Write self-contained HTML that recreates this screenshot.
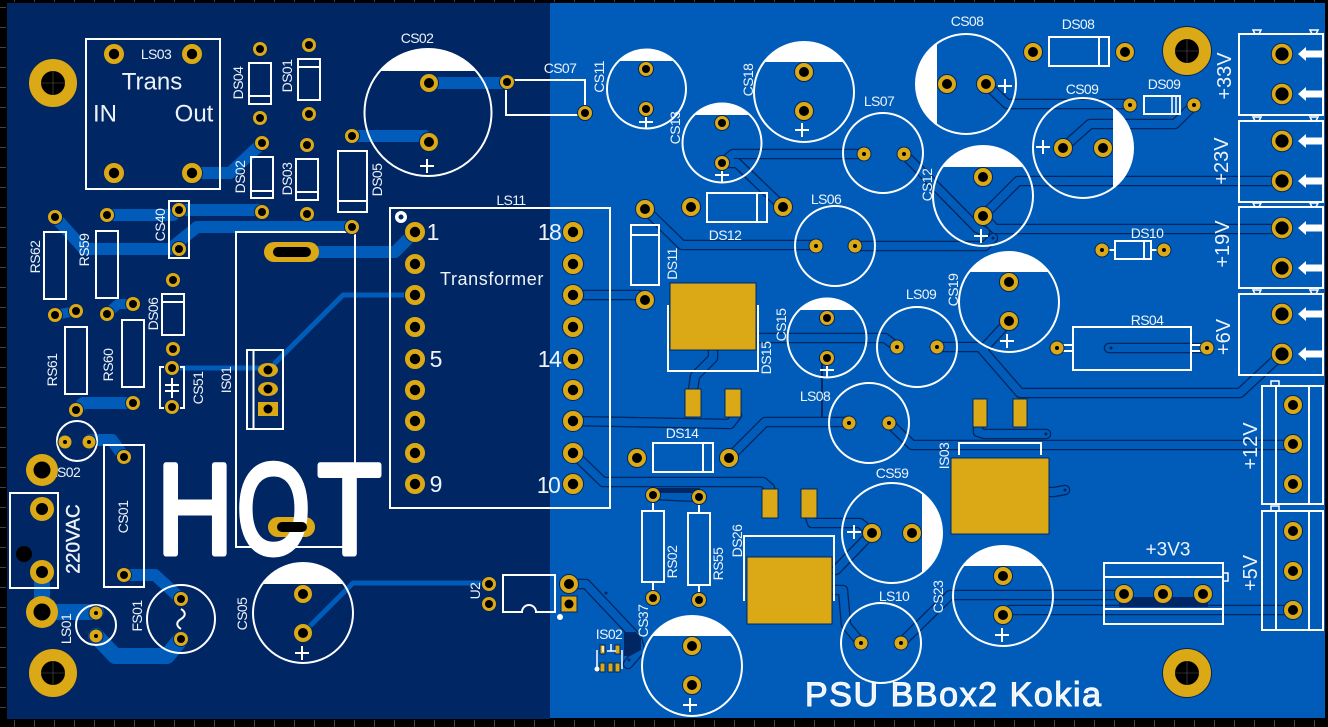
<!DOCTYPE html>
<html><head><meta charset="utf-8"><style>
html,body{margin:0;padding:0;background:#000;width:1328px;height:727px;overflow:hidden}
svg{display:block}
text{font-family:"Liberation Sans",sans-serif;fill:#eef3f9;text-anchor:middle;dominant-baseline:central}
.l{font-size:14px;letter-spacing:-.6px}
.s{fill:none;stroke:#fff;stroke-width:2}
.w{fill:#fff}
.g{fill:#dba915;stroke:#00265e;stroke-width:1}
.t{fill:none;stroke:#005cb8;stroke-linejoin:round;stroke-linecap:round}
</style></head><body>
<svg width="1328" height="727" viewBox="0 0 1328 727" xmlns="http://www.w3.org/2000/svg">
<defs>
<g id="m"><circle r="24.5" fill="#dba915" stroke="#00265e"/><circle r="12"/><path d="M-12 0H12M0-12V12" stroke="#555" stroke-width=".6"/></g>
<g id="a"><circle r="10.5" fill="#dba915" stroke="#00265e"/><circle r="5.2"/></g>
<g id="A"><circle r="10.7" fill="#dba915" stroke="#00265e"/><circle r="6.6"/></g>
<g id="b"><circle r="9.5" fill="#dba915" stroke="#00265e"/><circle r="5"/></g>
<g id="c"><circle r="7.5" fill="#dba915" stroke="#00265e"/><circle r="4"/></g>
<g id="d"><circle r="7" fill="#dba915" stroke="#00265e"/><circle r="2"/></g>
<g id="e"><circle r="16" fill="#dba915"/><circle r="8.5"/></g>
<g id="f"><circle r="12" fill="#dba915"/><circle r="6"/></g>
<g id="r"><path d="M0 0L8-7V-3.5H24V3.5H8V7Z" fill="#fff"/></g>
<path id="n" d="M-4 0H4L2 4H-2Z" fill="none" stroke="#fff" stroke-width="1.5"/>
<g id="tr" fill="none" stroke-linejoin="round" stroke-linecap="round">
<path d="M722 163L733 154H864"/>
<path d="M722 163H737L783 207"/>
<path d="M645 209L682 245H816"/>
<path d="M573 295H640L645 300"/>
<path d="M713 350V358L695 376L693 390"/>
<path d="M756 338H885L897 347"/>
<path d="M937 347H980L1020 393H1240L1282 354"/>
<path d="M1009 321L985 347"/>
<path d="M889 423L912 445H1293"/>
<path d="M729 458L765 422H849"/>
<path d="M573 421L730 424L737 415"/>
<path d="M573 453L603 482H763L770 488V492"/>
<path d="M806 505L812 523H860L872 533"/>
<path d="M872 533L836 570"/>
<path d="M835 590H843L846 625L861 643"/>
<path d="M901 643L950 595H1124"/>
<path d="M1003 615L1010 610H1293"/>
<path d="M983 216L1018 181H1282"/>
<path d="M983 216L995 229H1282"/>
<path d="M904 154L977 228L985 232"/>
<path d="M855 246H985L993 238"/>
<path d="M986 84L1007 104H1130"/>
<path d="M1063 148L1090 124H1175L1194 105"/>
<path d="M1109 348H1207"/>
<path d="M978 427V432L984 434H1046"/>
<path d="M1049 492H1054L1065 490"/>
<path d="M569 584H586L637 638L640 650L628 664"/>
<path d="M653 495L699 497"/>
</g>
</defs>

<rect width="1328" height="727" fill="#000"/>
<path d="M0 0V727" stroke="#444" stroke-width="12" stroke-dasharray="1 19" stroke-dashoffset="-7"/>
<path d="M14 727H1328" stroke="#444" stroke-width="14" stroke-dasharray="1 19"/>
<path d="M14 0H1328" stroke="#444" stroke-width="4" stroke-dasharray="1 19"/>
<rect x="7" y="3" width="543" height="716" fill="#002663"/>
<rect x="550" y="3" width="775" height="715" fill="#005cb8"/>

<!-- left copper -->
<g class="t" stroke-width="12">
<path d="M192 173H230L262 143"/>
<path d="M107 215H173L179 210H262"/>
<path d="M55 217L84 249H170L197 227H352"/>
<path d="M292 252H395L415 232"/>
<path d="M76 311L55 315" stroke-width="10"/>
<path d="M107 314L118 304H133" stroke-width="10"/>
<path d="M76 410L83 403H133"/>
<path d="M89 440H112L124 457"/>
<path d="M124 575H155L181 599"/>
<path d="M42 572V612H96" stroke-width="16"/>
<path d="M96 636L115 656H167L181 639" stroke-width="16"/>
<path d="M429 83H507"/>
<path d="M352 136H425L429 142"/>
<path d="M275 363L343 295H415" stroke-width="5"/>
<path d="M172 368H268" stroke-width="5"/>
<path d="M303 633L353 583H489" stroke-width="5"/>
</g>

<!-- right copper -->
<use href="#tr" stroke="#00265e" stroke-width="10.6"/>
<use href="#tr" stroke="#005cb8" stroke-width="8"/>
<path d="M822 358V417" stroke="#00265e" stroke-width="2" fill="none"/>
<path d="M624 632H636L641 638V650L630 656H624Z" fill="#002663"/>
<rect x="650" y="488" width="50" height="5" fill="#002663"/>
<rect x="1119" y="597" width="89" height="10" fill="#002663"/>

<!-- gold SMD pads -->
<rect class="g" x="670" y="283" width="86" height="67"/>
<rect class="g" x="685" y="389" width="16" height="28"/>
<rect class="g" x="725" y="389" width="16" height="28"/>
<rect class="g" x="762" y="489" width="16" height="29"/>
<rect class="g" x="801" y="489" width="16" height="29"/>
<rect class="g" x="951" y="458" width="98" height="76"/>
<rect class="g" x="973" y="399" width="14" height="28"/>
<rect class="g" x="1013" y="399" width="14" height="28"/>
<rect class="g" x="747" y="557" width="85" height="67"/>
<rect class="g" x="600" y="645" width="5" height="9"/>
<rect class="g" x="615" y="645" width="5" height="9"/>
<rect class="g" x="600" y="663" width="5" height="9"/>
<rect class="g" x="608" y="663" width="5" height="9"/>
<rect class="g" x="615" y="663" width="5" height="9"/>

<!-- slots -->
<rect x="264" y="242" width="55" height="20" rx="10" fill="#dba915"/>
<rect x="273" y="247" width="38" height="10" rx="5"/>
<rect x="268" y="517" width="47" height="20" rx="10" fill="#dba915"/>

<!-- silkscreen -->
<g class="s">
<rect x="86" y="39" width="134" height="150"/>
<rect x="249" y="63" width="22" height="41"/><path d="M249 96H271"/>
<rect x="298" y="59" width="22" height="41"/><path d="M298 67H320"/>
<rect x="251" y="157" width="22" height="41"/><path d="M251 191H273"/>
<rect x="296" y="159" width="22" height="41"/><path d="M296 192H318"/>
<rect x="338" y="151" width="29" height="61"/><path d="M338 201H367"/>
<rect x="169" y="201" width="20" height="57"/>
<rect x="44" y="232" width="22" height="67"/>
<rect x="96" y="231" width="22" height="67"/>
<rect x="65" y="327" width="22" height="67"/>
<rect x="122" y="320" width="22" height="67"/>
<rect x="162" y="294" width="22" height="41"/><path d="M162 302H184"/>
<path d="M164 367H160V408H164M180 367H184V408H180"/>
<path d="M172 378V398M165 385H179M165 391H179"/>
<rect x="236" y="232" width="119" height="315"/>
<rect x="247" y="350" width="36" height="79"/><path d="M253.500 350V429"/>
<circle cx="428" cy="112.500" r="63.500"/>
<path d="M507 80H585V105M506 85V115H580"/>
<circle cx="646.500" cy="89" r="39.500"/>
<circle cx="722" cy="143" r="39.500"/>
<circle cx="804" cy="92" r="50"/>
<rect x="707" y="193" width="60" height="29"/><path d="M757 193V222"/>
<rect x="631" y="225" width="28" height="60"/><path d="M631 235H659"/>
<path d="M668 305V371H758V305"/>
<rect x="653" y="443" width="60" height="29"/><path d="M703 443V472"/>
<rect x="390" y="208" width="220" height="300"/>
<circle cx="827" cy="338" r="39.500"/>
<circle cx="835" cy="246" r="40"/>
<circle cx="883" cy="153" r="40"/>
<circle cx="966" cy="84" r="50"/>
<rect x="1049" y="37" width="60" height="29"/><path d="M1099 37V66"/>
<circle cx="1083" cy="148" r="50"/>
<rect x="1144" y="96" width="36" height="18"/><path d="M1172 96V114M1176 96V114" stroke-width="1.500"/>
<circle cx="983" cy="196" r="50"/>
<rect x="1115" y="241" width="36" height="18"/><path d="M1144 241V259M1102 250H1115M1151 250H1164"/>
<circle cx="1009" cy="302" r="50"/>
<circle cx="917" cy="347" r="40"/>
<rect x="1073" y="327" width="118" height="43"/><path d="M1057 345H1073M1057 351H1073M1191 345H1207M1191 351H1207"/>
<rect x="1239" y="34" width="84" height="81"/>
<rect x="1239" y="121" width="84" height="81"/>
<rect x="1239" y="207" width="84" height="81"/>
<rect x="1239" y="294" width="84" height="81"/>
<rect x="1262" y="386" width="61" height="118"/><path d="M1276 386V504M1309 386V504"/>
<rect x="1271" y="381" width="8" height="5" stroke-width="1.500"/>
<rect x="1262" y="511" width="61" height="119"/><path d="M1276 511V630M1309 511V630"/>
<rect x="1271" y="506" width="8" height="5" stroke-width="1.500"/>
<path d="M959 455V443H1041V455"/>
<circle cx="892" cy="533" r="50"/>
<circle cx="869" cy="423" r="40"/>
<circle cx="1003" cy="596" r="50"/>
<circle cx="881" cy="643" r="40"/>
<rect x="1104" y="563" width="119" height="61"/><path d="M1104 577H1223M1104 609H1223"/>
<rect x="1223" y="573" width="5" height="8" stroke-width="1.500"/>
<path d="M744 601V536H834V601"/>
<rect x="642" y="511" width="22" height="71"/><path d="M653 503V511M653 582V590"/>
<rect x="688" y="513" width="22" height="72"/><path d="M699 505V513M699 585V593"/>
<path d="M503 612V575H555V612H536A7 7 0 0 0 522 612Z"/>
<circle cx="692" cy="666" r="50"/>
<path d="M597 650V669M603 652V646M607 651H616M611 644V651" stroke-width="1.500"/>
<path d="M622 650V669" stroke-width="1.500"/>
<circle cx="303" cy="613" r="50"/>
<circle cx="181" cy="619" r="34"/>
<path d="M181 609C186 612 186 616 181 619C176 622 176 626 181 629"/>
<circle cx="96" cy="625" r="20"/>
<circle cx="77" cy="441" r="20"/>
<rect x="10" y="493" width="48" height="95"/>
<rect x="104" y="445" width="40" height="142"/>
<!-- plus signs -->
<path d="M427 159V173M420 166H434M646 115V129M639 122H653M722 168V182M715 175H729M802 123V137M795 130H809M827 363V377M820 370H834M1005 79V93M998 86H1012M1043 140V154M1036 147H1050M981 229V243M974 236H988M1007 334V348M1000 341H1014M854 525V539M847 532H861M1002 628V642M995 635H1009M690 698V712M683 705H697M302 646V660M295 653H309"/>
</g>
<!-- flat segments -->
<g class="w">
<path d="M380 71A63.500 63.500 0 0 1 476 71Z"/>
<path d="M618.600 61A39.500 39.500 0 0 1 674.400 61Z"/>
<path d="M694 115A39.500 39.500 0 0 1 750 115Z"/>
<path d="M764 62A50 50 0 0 1 844 62Z"/>
<path d="M942.300 167A50 50 0 0 1 1023.700 167Z"/>
<path d="M969 272A50 50 0 0 1 1049 272Z"/>
<path d="M799 310A39.500 39.500 0 0 1 855 310Z"/>
<path d="M963 566A50 50 0 0 1 1043 566Z"/>
<path d="M652 636A50 50 0 0 1 732 636Z"/>
<path d="M262.300 584A50 50 0 0 1 343.700 584Z"/>
<path d="M937 43A50 50 0 0 0 937 125Z"/>
<path d="M1113 108A50 50 0 0 1 1113 188Z"/>
<path d="M922 493A50 50 0 0 1 922 573Z"/>
<circle cx="560" cy="617" r="3"/>
<circle cx="597" cy="669" r="2.500"/>
<circle cx="401" cy="217" r="6"/>
</g>
<circle cx="401" cy="217" r="2.500" fill="#002663"/>

<!-- notches and arrows -->
<use href="#n" x="1257" y="30"/><use href="#n" x="1314" y="30"/>
<use href="#n" x="1257" y="117"/><use href="#n" x="1314" y="117"/>
<use href="#n" x="1257" y="203"/><use href="#n" x="1314" y="203"/>
<use href="#n" x="1257" y="290"/><use href="#n" x="1314" y="290"/>
<use href="#r" x="1298" y="54"/><use href="#r" x="1298" y="94"/>
<use href="#r" x="1298" y="141"/><use href="#r" x="1298" y="181"/>
<use href="#r" x="1298" y="228"/><use href="#r" x="1298" y="268"/>
<use href="#r" x="1298" y="314"/><use href="#r" x="1298" y="354"/>

<!-- labels -->
<g class="l">
<text x="156" y="54">LS03</text>
<text x="417" y="38">CS02</text>
<text x="560" y="68">CS07</text>
<text x="511" y="200">LS11</text>
<text x="725" y="235">DS12</text>
<text x="682" y="433">DS14</text>
<text x="879" y="101">LS07</text>
<text x="826" y="199">LS06</text>
<text x="967" y="21">CS08</text>
<text x="1078" y="24">DS08</text>
<text x="1082" y="89">CS09</text>
<text x="1164" y="84">DS09</text>
<text x="1147" y="233">DS10</text>
<text x="921" y="294">LS09</text>
<text x="1147" y="320">RS04</text>
<text x="892" y="473">CS59</text>
<text x="815" y="396">LS08</text>
<text x="894" y="596">LS10</text>
<text x="609" y="634">IS02</text>
<text x="65" y="472">LS02</text>
<text x="238" y="83" transform="rotate(-90 238 83)">DS04</text>
<text x="287" y="76" transform="rotate(-90 287 76)">DS01</text>
<text x="240" y="177" transform="rotate(-90 240 177)">DS02</text>
<text x="287" y="179" transform="rotate(-90 287 179)">DS03</text>
<text x="377" y="180" transform="rotate(-90 377 180)">DS05</text>
<text x="160" y="225" transform="rotate(-90 160 225)">CS40</text>
<text x="35" y="257" transform="rotate(-90 35 257)">RS62</text>
<text x="84" y="250" transform="rotate(-90 84 250)">RS59</text>
<text x="52" y="370" transform="rotate(-90 52 370)">RS61</text>
<text x="108" y="365" transform="rotate(-90 108 365)">RS60</text>
<text x="153" y="314" transform="rotate(-90 153 314)">DS06</text>
<text x="198" y="388" transform="rotate(-90 198 388)">CS51</text>
<text x="226" y="380" transform="rotate(-90 226 380)">IS01</text>
<text x="599" y="77" transform="rotate(-90 599 77)">CS11</text>
<text x="675" y="128" transform="rotate(-90 675 128)">CS13</text>
<text x="748" y="80" transform="rotate(-90 748 80)">CS18</text>
<text x="672" y="264" transform="rotate(-90 672 264)">DS11</text>
<text x="766" y="358" transform="rotate(-90 766 358)">DS15</text>
<text x="781" y="325" transform="rotate(-90 781 325)">CS15</text>
<text x="927" y="185" transform="rotate(-90 927 185)">CS12</text>
<text x="953" y="290" transform="rotate(-90 953 290)">CS19</text>
<text x="944" y="456" transform="rotate(-90 944 456)">IS03</text>
<text x="938" y="597" transform="rotate(-90 938 597)">CS23</text>
<text x="737" y="541" transform="rotate(-90 737 541)">DS26</text>
<text x="672" y="562" transform="rotate(-90 672 562)">RS02</text>
<text x="718" y="564" transform="rotate(-90 718 564)">RS55</text>
<text x="475" y="591" transform="rotate(-90 475 591)">U2</text>
<text x="643" y="621" transform="rotate(-90 643 621)">CS37</text>
<text x="242" y="614" transform="rotate(-90 242 614)">CS05</text>
<text x="137" y="616" transform="rotate(-90 137 616)">FS01</text>
<text x="66" y="629" transform="rotate(-90 66 629)">LS01</text>
<text x="123" y="517" transform="rotate(-90 123 517)">CS01</text>
</g>
<text x="152" y="82" font-size="24">Trans</text>
<text x="105" y="114" font-size="24">IN</text>
<text x="194" y="114" font-size="24">Out</text>
<text x="492" y="279" font-size="18" letter-spacing=".6">Transformer</text>
<g font-size="23">
<text x="433" y="232">1</text><text x="436" y="359">5</text><text x="436" y="484">9</text>
<text x="549" y="232" letter-spacing="-1.500">18</text><text x="549" y="359" letter-spacing="-1.500">14</text><text x="548" y="485" letter-spacing="-1.500">10</text>
</g>
<g font-size="20">
<text x="1225" y="76" transform="rotate(-90 1225 76)">+33V</text>
<text x="1222" y="161" transform="rotate(-90 1222 161)">+23V</text>
<text x="1223" y="244" transform="rotate(-90 1223 244)">+19V</text>
<text x="1224" y="337" transform="rotate(-90 1224 337)">+6V</text>
<text x="1251" y="446" transform="rotate(-90 1251 446)">+12V</text>
<text x="1251" y="573" transform="rotate(-90 1251 573)">+5V</text>
</g>
<text x="1168" y="550" font-size="19">+3V3</text>
<text x="74" y="539" font-size="19" stroke="#eef3f9" stroke-width=".4" transform="rotate(-90 74 539)">220VAC</text>
<text x="953" y="695" font-size="34" stroke="#fff" stroke-width="1" textLength="296">PSU BBox2 Kokia</text>

<!-- HOT -->
<g font-size="128" stroke="#fff" stroke-width="6" stroke-linejoin="round">
<text transform="translate(195 509) scale(.816 1)" style="fill:#fff">H</text>
<text transform="translate(273.500 509) scale(.734 1)" style="fill:#fff">O</text>
<text transform="translate(349.500 509) scale(.816 1)" style="fill:#fff">T</text>
</g>
<rect x="277" y="522" width="30" height="10" rx="5"/>

<!-- through-hole pads -->
<use href="#m" x="53" y="83"/><use href="#m" x="53" y="673"/><use href="#m" x="1187" y="51"/><use href="#m" x="1187" y="673"/>
<use href="#a" x="114" y="54"/><use href="#a" x="192" y="54"/><use href="#a" x="114" y="173"/><use href="#a" x="192" y="173"/>
<use href="#c" x="260" y="49"/><use href="#c" x="260" y="118"/><use href="#c" x="309" y="45"/><use href="#c" x="309" y="114"/>
<use href="#c" x="262" y="143"/><use href="#c" x="262" y="212"/><use href="#c" x="307" y="145"/><use href="#c" x="307" y="214"/>
<use href="#c" x="352" y="136"/><use href="#c" x="352" y="227"/>
<use href="#c" x="179" y="210"/><use href="#c" x="179" y="249"/>
<use href="#c" x="55" y="217"/><use href="#c" x="55" y="315"/><use href="#c" x="107" y="215"/><use href="#c" x="107" y="314"/>
<use href="#c" x="76" y="311"/><use href="#c" x="133" y="304"/><use href="#c" x="76" y="410"/><use href="#c" x="133" y="403"/>
<use href="#c" x="173" y="280"/><use href="#c" x="173" y="349"/><use href="#c" x="172" y="368"/><use href="#c" x="172" y="407"/>
<ellipse cx="268" cy="370" rx="10" ry="7" fill="#dba915"/><circle cx="268" cy="370" r="4.500"/>
<ellipse cx="268" cy="389" rx="10" ry="7" fill="#dba915"/><circle cx="268" cy="389" r="4.500"/>
<rect x="258" y="402" width="20" height="14" fill="#dba915"/><circle cx="268" cy="409" r="4.500"/>
<use href="#b" x="429" y="83"/><use href="#b" x="429" y="142"/>
<use href="#c" x="507" y="82"/><use href="#c" x="585" y="113"/>
<use href="#a" x="415" y="232"/><use href="#a" x="415" y="264"/><use href="#a" x="415" y="295"/><use href="#a" x="415" y="327"/><use href="#a" x="415" y="359"/><use href="#a" x="415" y="390"/><use href="#a" x="415" y="421"/><use href="#a" x="415" y="453"/><use href="#a" x="415" y="484"/>
<use href="#a" x="573" y="232"/><use href="#a" x="573" y="264"/><use href="#a" x="573" y="295"/><use href="#a" x="573" y="327"/><use href="#a" x="573" y="359"/><use href="#a" x="573" y="390"/><use href="#a" x="573" y="421"/><use href="#a" x="573" y="453"/><use href="#a" x="573" y="484"/>
<use href="#c" x="646" y="69"/><use href="#c" x="646" y="109"/><use href="#c" x="722" y="123"/><use href="#c" x="722" y="163"/>
<use href="#b" x="804" y="72"/><use href="#b" x="804" y="111"/>
<use href="#b" x="691" y="207"/><use href="#b" x="783" y="207"/><use href="#b" x="645" y="209"/><use href="#b" x="645" y="300"/>
<use href="#b" x="637" y="458"/><use href="#b" x="729" y="458"/>
<use href="#c" x="827" y="318"/><use href="#c" x="827" y="358"/>
<use href="#d" x="816" y="246"/><use href="#d" x="855" y="246"/>
<use href="#d" x="864" y="154"/><use href="#d" x="904" y="154"/>
<use href="#b" x="947" y="84"/><use href="#b" x="986" y="84"/>
<use href="#b" x="1033" y="52"/><use href="#b" x="1125" y="52"/>
<use href="#b" x="1063" y="148"/><use href="#b" x="1103" y="148"/>
<use href="#d" x="1130" y="105"/><use href="#d" x="1194" y="105"/>
<use href="#b" x="983" y="177"/><use href="#b" x="983" y="216"/>
<use href="#d" x="1102" y="250"/><use href="#d" x="1164" y="250"/>
<use href="#b" x="1009" y="282"/><use href="#b" x="1009" y="321"/>
<use href="#d" x="897" y="347"/><use href="#d" x="937" y="347"/>
<use href="#d" x="1057" y="348"/><use href="#d" x="1207" y="348"/>
<use href="#d" x="849" y="423"/><use href="#d" x="889" y="423"/>
<use href="#b" x="872" y="533"/><use href="#b" x="912" y="533"/>
<use href="#b" x="1003" y="576"/><use href="#b" x="1003" y="615"/>
<use href="#d" x="861" y="643"/><use href="#d" x="901" y="643"/>
<use href="#A" x="1282" y="54"/><use href="#A" x="1282" y="94"/><use href="#A" x="1282" y="141"/><use href="#A" x="1282" y="181"/>
<use href="#A" x="1282" y="228"/><use href="#A" x="1282" y="268"/><use href="#A" x="1282" y="314"/><use href="#A" x="1282" y="354"/>
<use href="#b" x="1293" y="405"/><use href="#b" x="1293" y="444"/><use href="#b" x="1293" y="484"/>
<use href="#b" x="1293" y="531"/><use href="#b" x="1293" y="571"/><use href="#b" x="1293" y="610"/>
<use href="#b" x="1124" y="594"/><use href="#b" x="1163" y="594"/><use href="#b" x="1203" y="594"/>
<use href="#c" x="653" y="495"/><use href="#c" x="653" y="598"/><use href="#c" x="699" y="497"/><use href="#c" x="699" y="600"/>
<use href="#c" x="489" y="584"/><use href="#c" x="489" y="604"/><use href="#b" x="569" y="584"/>
<rect x="561" y="596" width="16" height="16" fill="#dba915" stroke="#00265e"/><circle cx="569" cy="604" r="4.500"/>
<use href="#b" x="692" y="646"/><use href="#b" x="692" y="685"/>
<use href="#b" x="303" y="594"/><use href="#b" x="303" y="633"/>
<use href="#c" x="181" y="599"/><use href="#c" x="181" y="639"/>
<use href="#d" x="96" y="613"/><use href="#d" x="96" y="636"/>
<use href="#d" x="65" y="442"/><use href="#d" x="89" y="442"/>
<use href="#e" x="42" y="470"/><use href="#e" x="42" y="612"/>
<use href="#f" x="42" y="509"/><use href="#f" x="42" y="572"/>
<circle cx="24" cy="554" r="8"/>
<use href="#c" x="124" y="457"/><use href="#c" x="124" y="575"/>
<!-- vias -->
<g fill="#00265e">
<circle cx="993" cy="238" r="1.500"/><circle cx="1046" cy="434" r="1.500"/><circle cx="1065" cy="490" r="1.500"/><circle cx="1111" cy="348" r="1.500"/>
<circle cx="606" cy="593" r="1.500"/><circle cx="629" cy="636" r="1.500"/><circle cx="629" cy="660" r="1.500"/>
</g>
</svg>
</body></html>
